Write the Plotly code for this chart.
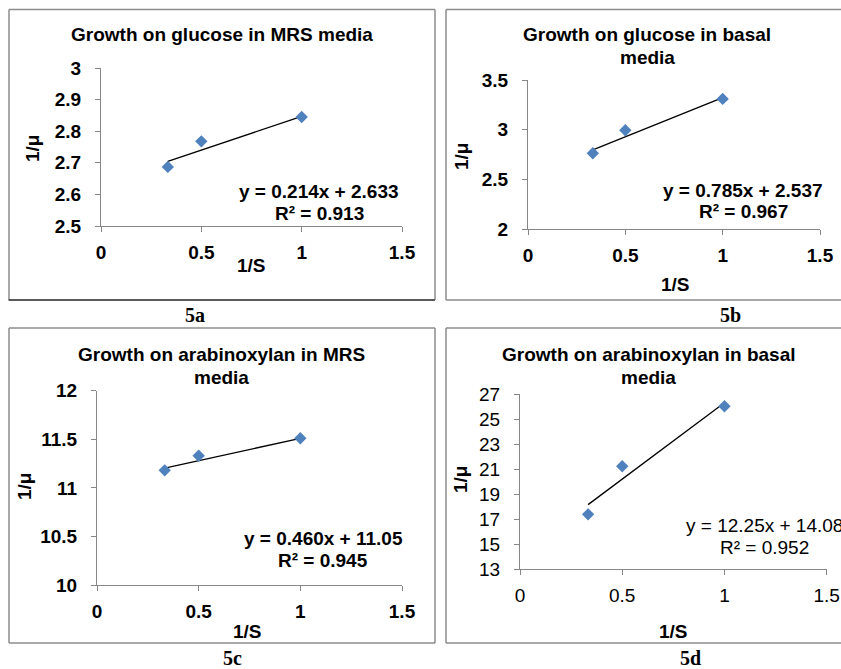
import plotly.graph_objects as go

W, H = 841, 669

# ---- data ----
s_inv = [0.333, 0.5, 1.0]                 # 1/S
mu_inv_a = [2.687, 2.768, 2.845]          # glucose, MRS
mu_inv_b = [2.764, 2.995, 3.31]           # glucose, basal
mu_inv_c = [11.18, 11.33, 11.51]          # arabinoxylan, MRS
mu_inv_d = [17.38, 21.23, 26.04]          # arabinoxylan, basal
slopes = [0.214, 0.785, 0.460, 12.25]
intercepts = [2.633, 2.537, 11.05, 14.08]
eq_texts = ["y = 0.214x + 2.633", "y = 0.785x + 2.537", "y = 0.460x + 11.05", "y = 12.25x + 14.08"]
r2_texts = ["R² = 0.913", "R² = 0.967", "R² = 0.945", "R² = 0.952"]
titles = [["Growth on glucose in MRS media"],
          ["Growth on glucose in basal", "media"],
          ["Growth on arabinoxylan in MRS", "media"],
          ["Growth on arabinoxylan in basal", "media"]]
panel_labels = ["5a", "5b", "5c", "5d"]
y_ranges = [[2.5, 3.0], [2.0, 3.5], [10.0, 12.0], [13.0, 27.0]]
y_dticks = [0.1, 0.5, 0.5, 2]
x_range = [0, 1.5]
x_dtick = 0.5

ys = [mu_inv_a, mu_inv_b, mu_inv_c, mu_inv_d]

def fx(x):
    return x / W

def fy(y):
    return 1 - y / H

# ---- layout geometry (window pixels) ----
plot_boxes = [(101, 402, 68, 226), (528, 820, 80, 229.3), (97, 402, 390.7, 585), (520, 826.7, 394.3, 569)]
title_pos = [(222, [35]), (647, [34, 57]), (222, [354, 377]), (648.5, [354, 377])]
eq_pos = [(319, 192, 213), (743, 190, 212), (323, 538, 560), (764, 525, 547)]
xt_pos = [(252, 265), (675, 284), (248, 631), (673, 631)]
yt_pos = [(32, 148), (462, 157), (25, 487), (460, 480)]
lbl_pos = [(195, 315), (730, 315), (233, 658), (690, 658)]
frames = [(9, 9.5, 435, 300), (446, 9.5, None, 300), (9, 328, 435, 643), (446, 328, None, 643)]

SANS = "Liberation Sans, Arial, sans-serif"
SERIF = "Liberation Serif, Times New Roman, serif"
AX = "#868686"
BLUE = "#4F81BD"
FRAME = "#8c8c8c"

fig = go.Figure()
layout = dict(autosize=True, margin=dict(l=0, r=0, t=0, b=0, pad=0, autoexpand=False),
              paper_bgcolor="white", plot_bgcolor="white", showlegend=False)
annotations = []
shapes = []

def line(x0, y0, x1, y1, color=FRAME, width=1.5):
    shapes.append(dict(type="line", xref="paper", yref="paper", x0=fx(x0), x1=fx(x1),
                       y0=fy(y0), y1=fy(y1), line=dict(color=color, width=width)))

for i in range(4):
    n = "" if i == 0 else str(i + 1)
    x0, x1, yt, yb = plot_boxes[i]
    bold_ticks = i < 3
    tf = dict(family=SANS, size=19, color="black", weight="bold" if bold_ticks else "normal")
    layout["xaxis" + n] = dict(domain=[fx(x0), fx(x1)], range=x_range, dtick=x_dtick, tick0=0,
                               anchor="y" + n, showline=True, linecolor=AX, linewidth=1,
                               ticks="outside", ticklen=5, tickcolor=AX, showgrid=False,
                               zeroline=False, tickfont=tf, ticklabelstandoff=4,
                               automargin=False)
    layout["yaxis" + n] = dict(domain=[fy(yb), fy(yt)], range=y_ranges[i], dtick=y_dticks[i],
                               tick0=y_ranges[i][0], anchor="x" + n, showline=True, linecolor=AX,
                               linewidth=1, ticks="outside", ticklen=5, tickcolor=AX,
                               showgrid=False, zeroline=False, tickfont=tf, ticklabelstandoff=10,
                               automargin=False)
    # linear trendline from the fitted equation
    lx = [min(s_inv), max(s_inv)]
    ly = [slopes[i] * v + intercepts[i] for v in lx]
    fig.add_trace(go.Scatter(x=lx, y=ly, mode="lines", line=dict(color="black", width=1.3),
                             xaxis="x" + n, yaxis="y" + n, hoverinfo="skip"))
    fig.add_trace(go.Scatter(x=s_inv, y=ys[i], mode="markers",
                             marker=dict(symbol="diamond", size=9.5, color=BLUE),
                             xaxis="x" + n, yaxis="y" + n))
    cx, lines_y = title_pos[i]
    for txt, ty in zip(titles[i], lines_y):
        annotations.append(dict(text=txt, x=fx(cx), y=fy(ty), xref="paper", yref="paper",
                                showarrow=False, xanchor="center", yanchor="middle",
                                font=dict(family=SANS, size=19, color="black", weight="bold")))
    ex, ey1, ey2 = eq_pos[i]
    ef = dict(family=SANS, size=19, color="black", weight="bold" if bold_ticks else "normal")
    for txt, ty in [(eq_texts[i], ey1), (r2_texts[i], ey2)]:
        annotations.append(dict(text=txt, x=fx(ex), y=fy(ty), xref="paper", yref="paper",
                                showarrow=False, xanchor="center", yanchor="middle", font=ef))
    annotations.append(dict(text="1/S", x=fx(xt_pos[i][0]), y=fy(xt_pos[i][1]), xref="paper",
                            yref="paper", showarrow=False, xanchor="center", yanchor="middle",
                            font=dict(family=SANS, size=19, color="black", weight="bold")))
    annotations.append(dict(text="1/μ", x=fx(yt_pos[i][0]), y=fy(yt_pos[i][1]), xref="paper",
                            yref="paper", showarrow=False, xanchor="center", yanchor="middle",
                            textangle=-90,
                            font=dict(family=SANS, size=19, color="black", weight="bold")))
    annotations.append(dict(text=panel_labels[i], x=fx(lbl_pos[i][0]), y=fy(lbl_pos[i][1]),
                            xref="paper", yref="paper", showarrow=False, xanchor="center",
                            yanchor="middle",
                            font=dict(family=SERIF, size=20, color="black", weight="bold")))
    # panel frame (right-hand panels run off the right edge, as in the reference)
    a, b, c, d = frames[i]
    right = W if c is None else c
    line(a, b, right, b)
    line(a, d, right, d)
    line(a, b, a, d)
    if c is not None:
        line(c, b, c, d)

# darker bottom edge under panel a
line(8.5, 300, 435, 300, color="#404040")

layout["annotations"] = annotations
layout["shapes"] = shapes
fig.update_layout(**layout)
fig.write_html("out.html", config={"displayModeBar": False, "responsive": False},
               default_width="841px",
               default_height="669px; position:absolute; left:0; top:0")
